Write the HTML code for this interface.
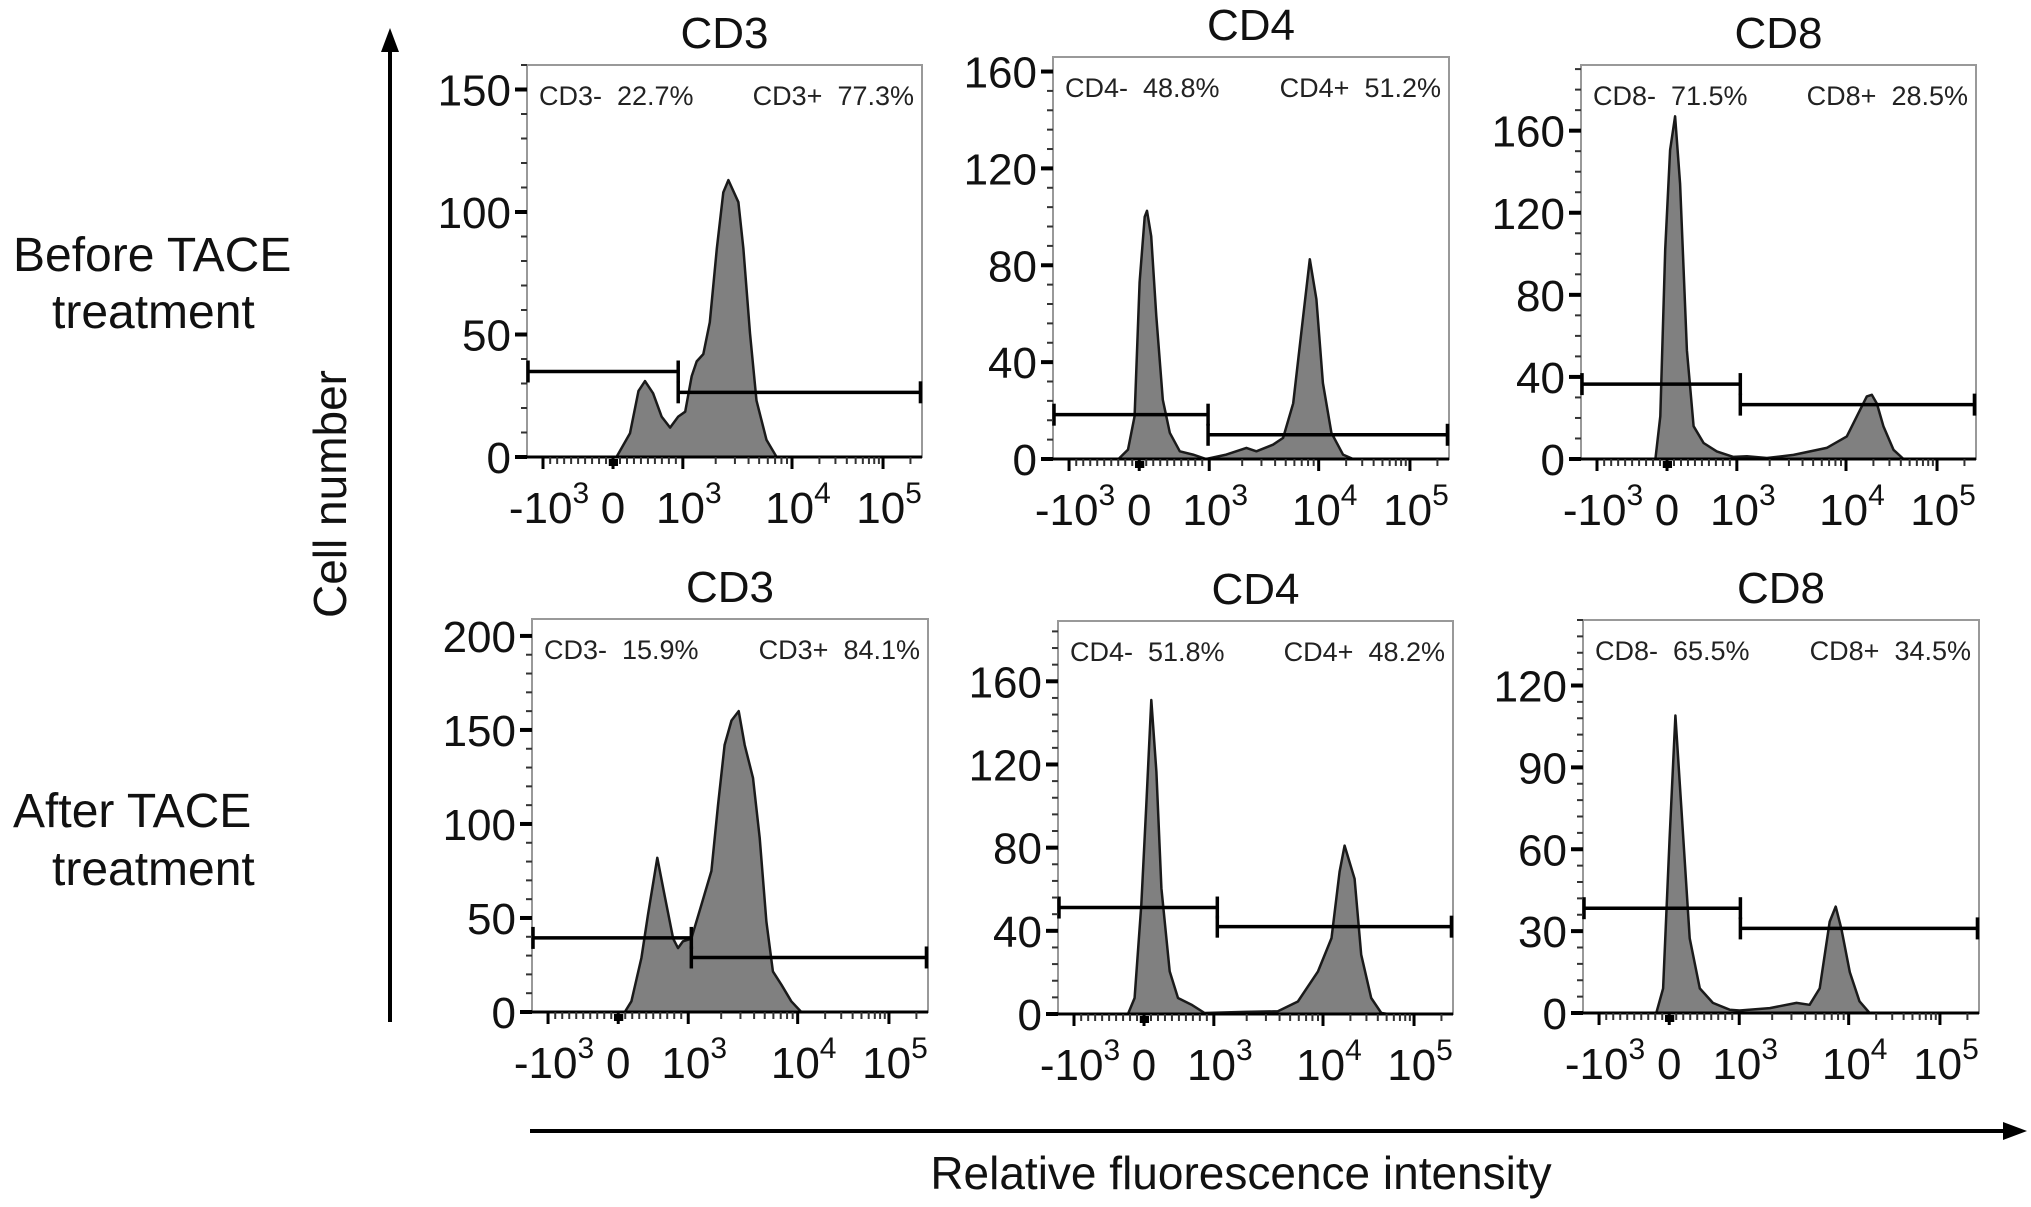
<!DOCTYPE html>
<html><head><meta charset="utf-8"><style>
html,body{margin:0;padding:0;background:#fff;}
svg{display:block;font-family:"Liberation Sans",Arial,sans-serif;}
.pre{white-space:pre;}
</style></head><body>
<svg id="fig" width="2031" height="1207" viewBox="0 0 2031 1207" xmlns="http://www.w3.org/2000/svg">
<g font-size="48" fill="#111">
<text x="13" y="271">Before TACE</text><text x="52" y="328">treatment</text></g>
<g font-size="48" fill="#111">
<text x="13" y="827">After TACE</text><text x="52" y="885">treatment</text></g>
<g>
<line x1="390" y1="1022" x2="390" y2="48" stroke="#000" stroke-width="4"/>
<polygon points="390,28 381,52 399,52" fill="#000"/></g>
<text transform="translate(346,494) rotate(-90)" text-anchor="middle" font-size="46" fill="#111">Cell number</text>
<g>
<line x1="530" y1="1131" x2="2005" y2="1131" stroke="#000" stroke-width="4"/>
<polygon points="2027,1131 2003,1122 2003,1140" fill="#000"/></g>
<text x="1241" y="1189" text-anchor="middle" font-size="46" fill="#111">Relative fluorescence intensity</text>
<g id="panels"></g>
</svg>
<script>
// Data (channel 0-1024 on biexponential axis, cell counts)
const xTickCh = [41.5, 223, 404, 687, 923];
const xTickBase = ["-10", "0", "10", "10", "10"];
const xTickExp = ["3", "", "3", "4", "5"];

const cd3BeforeCh = [232,267,289,306,327,349,371,392,410,427,440,457,474,492,509,522,548,561,578,595,621,647];
const cd3BeforeN  = [0,9.7,27,31,26,16.5,12,16.5,18.5,33,39,42,55,85,108,113,104,85,50.5,23,7,0];
const cd3BeforeGate = [34.9, 26.4, 392];
const cd3BeforeLabels = ["CD3-  22.7%", "CD3+  77.3%"];

const cd4BeforeCh = [172,194,211,224,237,243,254,267,284,302,328,362,396,448,500,526,569,595,621,647,664,681,698,720,750,776];
const cd4BeforeN  = [0.4,3.9,17.7,73,100,102.5,92,59,24.5,10.8,3.2,1.8,0,1.8,4.6,3.2,5.9,8.7,23,59,82.5,66,31.4,10.8,1.8,0];
const cd4BeforeGate = [18.3, 10, 401];
const cd4BeforeLabels = ["CD4-  48.8%", "CD4+  51.2%"];

const cd8BeforeCh = [193,205.5,218.4,231,244,257,274.6,291.8,317.7,352,395,430,482,551,637,689,723.5,741,754,767,784,810,836];
const cd8BeforeN  = [0,20.8,102,150.6,167,134,53,16,7.8,3.7,1,1.3,0.5,2,5.4,11,24,30.5,31.3,27,16,4.5,0];
const cd8BeforeGate = [36.5, 26.5, 413];
const cd8BeforeLabels = ["CD8-  71.5%", "CD8+  28.5%"];

const cd3AfterCh = [240,257,283,300,324,343,365,377.6,390.5,412,438,464,481,498,516,534.5,550,571.5,588.8,606,623,645,670.6,696.5];
const cd3AfterN  = [0,5.7,28.7,51.8,82,62,39,34,37.6,39,57,75,110,142,155,160,142,124.5,92.6,48,21.6,14.5,5.7,0];
const cd3AfterGate = [39.4, 29, 412];
const cd3AfterLabels = ["CD3-  15.9%", "CD3+  84.1%"];

const cd4AfterCh = [181.5,198.7,216,229,242,255,268,289.5,311,345.6,380,484,570,622,674,709,730,743,769,786,812,838,856];
const cd4AfterN  = [0,7.7,52.5,100.5,151,116.5,60.5,20.5,7.7,4.5,0.5,1,1.3,6,20.5,36.5,68.5,81,65,28.5,7.7,0.5,0];
const cd4AfterGate = [51.2, 42, 413];
const cd4AfterLabels = ["CD4-  51.8%", "CD4+  48.2%"];

const cd8AfterCh = [189.6,207,224,239,254,276,302,336,379,405,483,552,586,612,638,653.5,668,690,715,741];
const cd8AfterN  = [0,9,64,109,76,27.4,9,3.7,1.2,0.9,1.8,3.7,3,9,33.5,39,31,15,4.3,0];
const cd8AfterGate = [38.4, 31, 407];
const cd8AfterLabels = ["CD8-  65.5%", "CD8+  34.5%"];

const panels = [
 {name:'cd3-before', title:'CD3', L:527,R:922,T:65,B:457,yMax:160,yTicks:[0,50,100,150],minor:10,ch:cd3BeforeCh,n:cd3BeforeN,gate:cd3BeforeGate,labels:cd3BeforeLabels},
 {name:'cd4-before', title:'CD4', L:1053,R:1449,T:57,B:459,yMax:166,yTicks:[0,40,80,120,160],minor:8,ch:cd4BeforeCh,n:cd4BeforeN,gate:cd4BeforeGate,labels:cd4BeforeLabels},
 {name:'cd8-before', title:'CD8', L:1581,R:1976,T:65,B:459,yMax:192,yTicks:[0,40,80,120,160],minor:10,ch:cd8BeforeCh,n:cd8BeforeN,gate:cd8BeforeGate,labels:cd8BeforeLabels},
 {name:'cd3-after', title:'CD3', L:532,R:928,T:619,B:1012,yMax:209,yTicks:[0,50,100,150,200],minor:10,ch:cd3AfterCh,n:cd3AfterN,gate:cd3AfterGate,labels:cd3AfterLabels},
 {name:'cd4-after', title:'CD4', L:1058,R:1453,T:621,B:1014,yMax:189,yTicks:[0,40,80,120,160],minor:8,ch:cd4AfterCh,n:cd4AfterN,gate:cd4AfterGate,labels:cd4AfterLabels},
 {name:'cd8-after', title:'CD8', L:1583,R:1979,T:620,B:1013,yMax:144,yTicks:[0,30,60,90,120],minor:6,ch:cd8AfterCh,n:cd8AfterN,gate:cd8AfterGate,labels:cd8AfterLabels}
];

const NS = 'http://www.w3.org/2000/svg';
const root = document.getElementById('panels');
function mk(tag, attrs, parent){ const e=document.createElementNS(NS,tag); for(const k in attrs) e.setAttribute(k,attrs[k]); if(parent) parent.appendChild(e); return e; }

const minorCh = [];
for(let k=1;k<=9;k++){ minorCh.push(223 + k*18.1); minorCh.push(223 - k*18.1); }
for(let k=2;k<=9;k++){ minorCh.push(404 + Math.log10(k)*283); minorCh.push(687 + Math.log10(k)*236); }
minorCh.push(923 + Math.log10(2)*236);

panels.forEach(p => {
  const g = mk('g', {}, root);
  
  
  const xs = c => p.L + c/1024*(p.R-p.L);
  const ys = v => p.B - v/p.yMax*(p.B-p.T);

  const box = mk('rect', {x:p.L, y:p.T, width:p.R-p.L, height:p.B-p.T, fill:'#fff', stroke:'#999', 'stroke-width':2}, g);
  
  

  let d = 'M' + xs(p.ch[0]) + ',' + ys(0);
  p.ch.forEach((c,i) => { d += ' L' + xs(c).toFixed(1) + ',' + ys(p.n[i]).toFixed(1); });
  d += ' L' + xs(p.ch[p.ch.length-1]) + ',' + ys(0) + ' Z';
  const hist = mk('path', {d:d, fill:'#808080', stroke:'#1a1a1a', 'stroke-width':2.5, 'stroke-linejoin':'round'}, g);
  
  

  mk('line', {x1:p.L, y1:p.B, x2:p.R, y2:p.B, stroke:'#000', 'stroke-width':3}, g);

  const gl = mk('g', {stroke:'#000', 'stroke-width':3.5}, g);
  
  
  const yN = ys(p.gate[0]), yP = ys(p.gate[1]), xsplit = xs(p.gate[2]);
  mk('line', {x1:xs(0), y1:yN, x2:xsplit, y2:yN}, gl);
  mk('line', {x1:xs(0)+1, y1:yN-11, x2:xs(0)+1, y2:yN+11}, gl);
  mk('line', {x1:xsplit, y1:yN-11, x2:xsplit, y2:yN+11}, gl);
  const gp = mk('g', {stroke:'#000', 'stroke-width':3.5}, g);
  
  
  mk('line', {x1:xsplit, y1:yP, x2:xs(1020), y2:yP}, gp);
  mk('line', {x1:xsplit, y1:yP-11, x2:xsplit, y2:yP+11}, gp);
  mk('line', {x1:xs(1020), y1:yP-11, x2:xs(1020), y2:yP+11}, gp);

  const t1 = mk('text', {x:p.L+12, y:p.T+40, 'font-size':27, fill:'#222', 'class':'pre'}, g);
  t1.textContent = p.labels[0];
  
  
  const t2 = mk('text', {x:p.R-8, y:p.T+40, 'font-size':27, fill:'#222', 'text-anchor':'end', 'class':'pre'}, g);
  t2.textContent = p.labels[1];
  
  

  const tt = mk('text', {x:(p.L+p.R)/2, y:p.T-17, 'font-size':44, 'text-anchor':'middle', fill:'#111'}, g);
  tt.textContent = p.title;
  
  

  const ya = mk('g', {}, g);
  
  
  for(let v=0; v<=p.yMax; v+=p.minor){
    mk('line', {x1:p.L-6, y1:ys(v), x2:p.L, y2:ys(v), stroke:'#333', 'stroke-width':2}, ya);
  }
  p.yTicks.forEach(v => {
    mk('line', {x1:p.L-12, y1:ys(v), x2:p.L, y2:ys(v), stroke:'#000', 'stroke-width':4}, ya);
    const lt = mk('text', {x:p.L-16, y:ys(v)+16, 'font-size':44, 'text-anchor':'end', fill:'#111'}, ya);
    lt.textContent = v;
    
    
  });

  const xa = mk('g', {}, g);
  
  
  minorCh.forEach(c => mk('line', {x1:xs(c), y1:p.B, x2:xs(c), y2:p.B+7, stroke:'#333', 'stroke-width':2}, xa));
  xTickCh.forEach((c,i) => {
    mk('line', {x1:xs(c), y1:p.B, x2:xs(c), y2:p.B+12, stroke:'#000', 'stroke-width':3}, xa);
    const lt = mk('text', {x:xs(c)+(xTickExp[i]?6:0), y:p.B+66, 'font-size':44, 'text-anchor':'middle', fill:'#111'}, xa);
    
    
    lt.appendChild(document.createTextNode(xTickBase[i]));
    if(xTickExp[i]){
      const sp = mk('tspan', {dy:-20, 'font-size':30}, lt);
      sp.textContent = xTickExp[i];
    }
  });
  mk('rect', {x:xs(212), y:p.B+2, width:xs(236)-xs(212), height:7, fill:'#000'}, xa);
});
</script>
</body></html>
